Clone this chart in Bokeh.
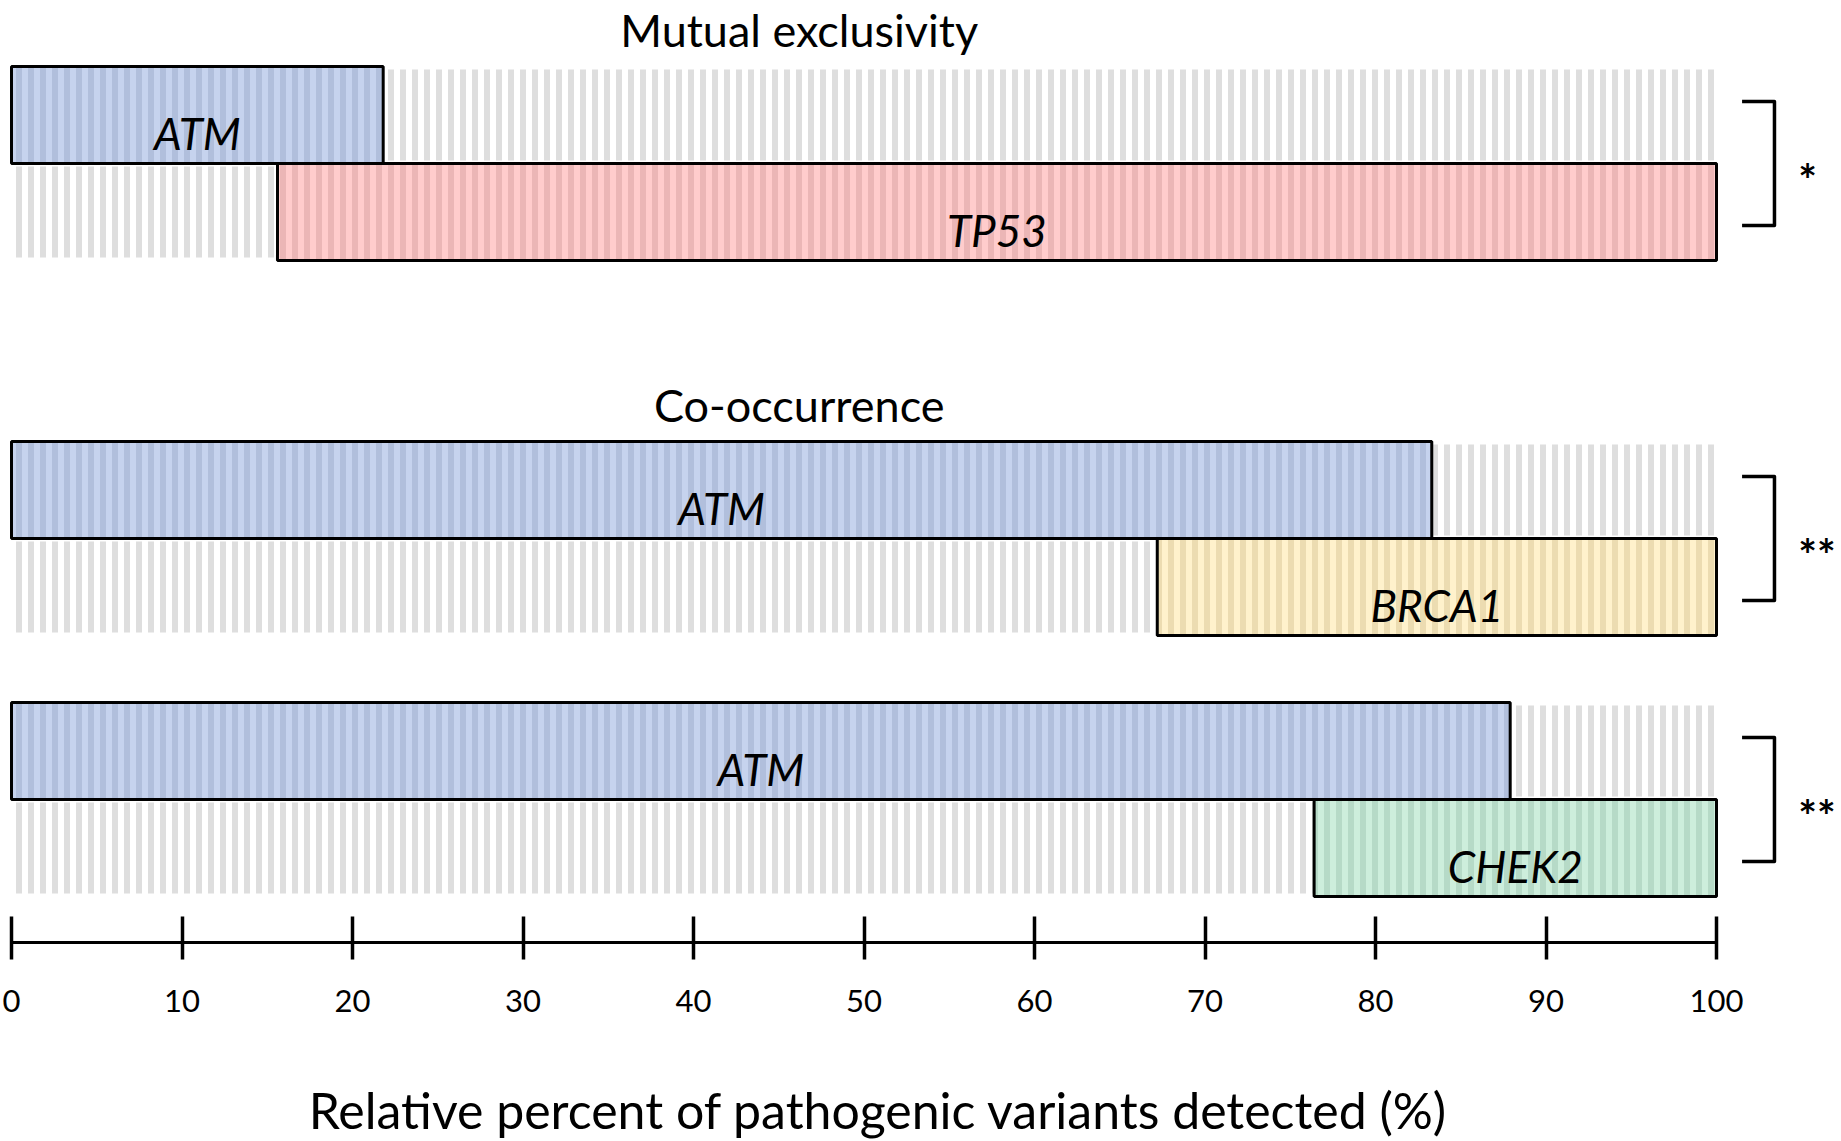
from bokeh.plotting import figure
from bokeh.models import Range1d, FixedTicker, ColumnDataSource, LinearAxis
from bokeh.embed import file_html
from bokeh.resources import INLINE
from bokeh.core.properties import value

# ---------------- data ----------------
section_titles = ["Mutual exclusivity", "Co-occurrence"]
pair_section = [0, 1, 1]
gene_a = ["ATM", "ATM", "ATM"]
gene_b = ["TP53", "BRCA1", "CHEK2"]
a_start = [0.0, 0.0, 0.0]
a_end = [21.8, 83.3, 87.9]
b_start = [15.6, 67.2, 76.4]
b_end = [100.0, 100.0, 100.0]
significance = ["*", "**", "**"]
x_ticks = [0, 10, 20, 30, 40, 50, 60, 70, 80, 90, 100]
x_label = "Relative percent of pathogenic variants detected (%)"

# ---------------- styles / layout ----------------
FONT = "Lato"
COLORS = {
    "ATM": ("#c6d3ee", "#b1bfdc"),
    "TP53": ("#ffcccc", "#ebb6b6"),
    "BRCA1": ("#fff2cc", "#ecdcb1"),
    "CHEK2": ("#cdeedc", "#b6dac7"),
}
W, H = 1836, 1141
PX = 17.05            # pixels per percent
X0 = 11               # pixel of 0 %
AXIS_Y = 942          # y pixel of the x axis line (y data is mapped 1:1 to pixels)
GROUP_TOP = [66, 441, 702]
ROW_H = 97
TXT = 15              # baseline correction for glyph text

x_start = -X0 / PX
x_end = x_start + W / PX

p = figure(width=W, height=H, output_backend="svg", toolbar_location=None,
           x_range=Range1d(x_start, x_end), y_range=Range1d(H, 0),
           x_axis_location=None, y_axis_location=None, min_border=0)
p.outline_line_color = None
p.grid.visible = False
p.background_fill_color = "white"

# rows
row_y, row_left, row_right, row_fill, row_hatch, row_gene = [], [], [], [], [], []
bg_y = []
for i in range(len(gene_a)):
    top = GROUP_TOP[i]
    ya = top + ROW_H / 2
    yb = top + ROW_H * 1.5
    bg_y += [ya, yb]
    for g, s, e, y in ((gene_a[i], a_start[i], a_end[i], ya), (gene_b[i], b_start[i], b_end[i], yb)):
        row_y.append(y); row_left.append(s); row_right.append(e)
        row_fill.append(COLORS[g][0]); row_hatch.append(COLORS[g][1]); row_gene.append(g)

# grey striped background rows 0-100
bg = ColumnDataSource(dict(y=bg_y, left=[0.0] * len(bg_y), right=[100.0] * len(bg_y)))
p.hbar(y="y", left="left", right="right", height=ROW_H - 6, source=bg,
       fill_color="white", line_color=None,
       hatch_pattern="|", hatch_color="#dedede", hatch_scale=12, hatch_weight=6)

# coloured bars
src = ColumnDataSource(dict(y=row_y, left=row_left, right=row_right,
                            fill=row_fill, hatch=row_hatch, gene=row_gene,
                            cx=[(l + r) / 2 for l, r in zip(row_left, row_right)],
                            ty=[y + ROW_H / 2 - 16 - TXT for y in row_y]))
p.hbar(y="y", left="left", right="right", height=ROW_H, source=src,
       fill_color="fill", line_color="black", line_width=3,
       hatch_pattern="|", hatch_color="hatch", hatch_scale=12, hatch_weight=6)
p.text(x="cx", y="ty", text="gene", source=src, text_font=value(FONT),
       text_font_style="italic", text_font_size="44px", text_color="black",
       text_align="center", text_baseline="alphabetic")

# section titles
t_x, t_y = [], []
for s in range(len(section_titles)):
    first = pair_section.index(s)
    t_x.append(46.2)
    t_y.append(GROUP_TOP[first] - 22 - TXT)
p.text(x=t_x, y=t_y, text=section_titles, text_font=value(FONT),
       text_font_size="45px", text_color="black",
       text_align="center", text_baseline="alphabetic")

# significance brackets
bx, by, sx, sy = [], [], [], []
for i in range(len(gene_a)):
    mid = GROUP_TOP[i] + ROW_H
    bx.append([101.5, 103.4, 103.4, 101.5])
    by.append([mid - 62, mid - 62, mid + 62, mid + 62])
    sx.append(104.8)
    sy.append(mid + 30 - TXT)
p.multi_line(xs=bx, ys=by, line_color="black", line_width=3.5, line_join="round")
p.text(x=sx, y=sy, text=significance, text_font=value(FONT), text_font_style="bold",
       text_font_size="44px", text_color="black", text_align="left",
       text_baseline="alphabetic")

# x axis, drawn at a fixed location inside the plot
ax = LinearAxis(fixed_location=AXIS_Y, ticker=FixedTicker(ticks=x_ticks), bounds=(0, 100))
ax.minor_tick_line_color = None
ax.major_tick_in = 26
ax.major_tick_out = 17
ax.major_tick_line_width = 3.5
ax.major_tick_line_color = "black"
ax.axis_line_width = 3
ax.axis_line_color = "black"
ax.major_label_text_font = FONT
ax.major_label_text_font_size = "31px"
ax.major_label_text_color = "black"
ax.major_label_standoff = 30
p.add_layout(ax, "below")

# x-axis title (centred as in the reference, a little right of the axis centre)
p.text(x=[50.85], y=[1124 - TXT], text=[x_label], text_font=value(FONT),
       text_font_size="50px", text_color="black", text_align="center",
       text_baseline="alphabetic")

open("out.html", "w").write(file_html(p, INLINE))
